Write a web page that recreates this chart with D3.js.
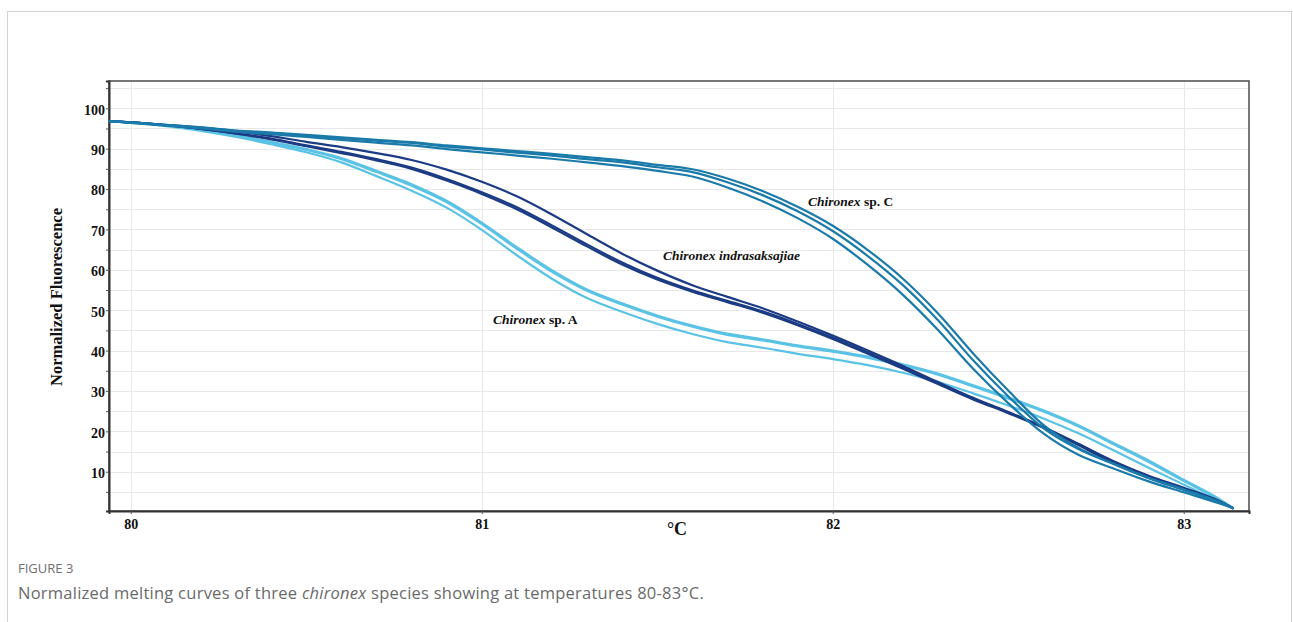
<!DOCTYPE html>
<html>
<head>
<meta charset="utf-8">
<script src="https://cdn.jsdelivr.net/npm/d3@7"></script>
<style>
  body { margin: 0; background: #fff; }
  svg { display: block; }
</style>
</head>
<body>
<script>
'use strict';

// temperature grid (°C) shared by every melt curve
const temps = [79.94, 80.0, 80.1, 80.2, 80.3, 80.4, 80.5, 80.6, 80.7, 80.8, 80.9,
  81.0, 81.1, 81.2, 81.3, 81.4, 81.5, 81.6, 81.7, 81.8, 81.9,
  82.0, 82.1, 82.2, 82.3, 82.4, 82.5, 82.6, 82.7, 82.8, 82.9,
  83.0, 83.1, 83.14];

// Chironex sp. A replicates
const spA1 = [96.8, 96.5, 95.8, 94.7, 93.3, 91.7, 89.9, 87.7, 84.5, 81.2, 77.1, 71.7, 65.6, 59.9, 55.1, 51.7, 48.7, 46.2, 44.2, 42.8, 41.3, 40.0, 38.5, 36.6, 34.3, 31.4, 28.4, 25.2, 21.5, 17.1, 12.8, 8.0, 3.3, 1.0];
const spA2 = [96.8, 96.5, 95.7, 94.6, 93.2, 91.5, 89.7, 87.4, 84.2, 80.8, 76.7, 71.3, 65.2, 59.5, 54.8, 51.4, 48.4, 45.9, 43.9, 42.5, 41.0, 39.7, 38.2, 36.3, 34.0, 31.1, 28.1, 24.9, 21.2, 16.8, 12.4, 7.7, 3.1, 1.0];
const spA3 = [96.8, 96.4, 95.6, 94.4, 92.9, 91.1, 89.1, 86.6, 83.2, 79.6, 75.4, 69.9, 63.6, 57.8, 53.0, 49.6, 46.6, 44.1, 42.1, 40.7, 39.2, 37.9, 36.4, 34.5, 32.2, 29.4, 26.4, 23.2, 19.5, 15.3, 11.0, 6.8, 2.7, 1.0];

// Chironex indrasaksajiae replicates
const ind1 = [96.8, 96.5, 95.9, 95.2, 94.3, 93.1, 91.7, 90.4, 88.9, 87.2, 84.8, 81.8, 78.2, 73.7, 68.8, 64.0, 59.8, 56.2, 53.3, 50.5, 47.2, 43.7, 40.0, 36.2, 32.2, 28.3, 24.8, 21.0, 16.6, 12.1, 8.5, 5.6, 2.6, 1.0];
const ind2 = [96.8, 96.5, 95.8, 94.9, 93.8, 92.5, 90.8, 89.2, 87.4, 85.3, 82.5, 79.2, 75.5, 71.0, 66.3, 61.8, 58.0, 54.9, 52.3, 49.7, 46.6, 43.2, 39.5, 35.8, 31.9, 28.1, 24.7, 21.1, 16.9, 12.5, 8.8, 5.8, 2.7, 1.0];
const ind3 = [96.8, 96.5, 95.8, 94.9, 93.7, 92.3, 90.6, 88.9, 87.1, 85.0, 82.1, 78.8, 75.0, 70.5, 65.8, 61.3, 57.6, 54.6, 52.0, 49.4, 46.3, 42.9, 39.2, 35.5, 31.7, 27.9, 24.5, 20.9, 16.8, 12.6, 9.0, 6.0, 2.8, 1.0];

// Chironex sp. C replicates
const spC1 = [96.8, 96.5, 95.9, 95.3, 94.5, 94.0, 93.4, 92.8, 92.2, 91.6, 90.8, 90.1, 89.4, 88.7, 87.9, 87.1, 86.0, 84.9, 82.6, 79.5, 75.6, 70.9, 64.9, 57.8, 49.2, 39.3, 30.1, 21.6, 15.9, 12.0, 8.5, 5.6, 2.6, 1.0];
const spC2 = [96.8, 96.5, 95.8, 95.2, 94.4, 93.9, 93.2, 92.6, 92.0, 91.4, 90.5, 89.8, 89.0, 88.3, 87.4, 86.6, 85.4, 84.2, 81.7, 78.5, 74.5, 69.6, 63.4, 56.2, 47.5, 37.6, 28.7, 20.8, 15.6, 11.9, 8.4, 5.5, 2.5, 1.0];
const spC3 = [96.8, 96.4, 95.7, 95.0, 94.2, 93.6, 92.9, 92.2, 91.5, 90.8, 89.9, 89.1, 88.3, 87.5, 86.6, 85.7, 84.5, 83.1, 80.4, 77.0, 72.8, 67.7, 61.2, 53.8, 45.1, 35.5, 27.0, 19.5, 14.2, 10.8, 7.6, 4.9, 2.2, 1.0];

const xTicks = [80, 81, 82, 83];
const yTicks = [10, 20, 30, 40, 50, 60, 70, 80, 90, 100];
const yMinorTicks = [5, 15, 25, 35, 45, 55, 65, 75, 85, 95, 105];

const series = [
  { name: "Chironex sp. A", color: "#5ac3e5", reps: [spA1, spA2, spA3] },
  { name: "Chironex indrasaksajiae", color: "#1b3b84", reps: [ind1, ind2, ind3] },
  { name: "Chironex sp. C", color: "#1a7aa9", reps: [spC1, spC2, spC3] }
];

(function () {
  let svg = "";
  const plot = { left: 109, right: 1249, top: 81, bottom: 511 };
  const serif = "'Liberation Serif', 'Times New Roman', serif";

  window.onload = function () {
    svg = d3.select('body')
      .append('svg')
      .attr('width', 1293)
      .attr('height', 622);

    // card outline
    svg.append('rect')
      .attr('x', 7.5)
      .attr('y', 11.5)
      .attr('width', 1284)
      .attr('height', 640)
      .attr('fill', 'none')
      .attr('stroke', '#d2d2d2');

    let funcs = drawAxes();
    plotLines(funcs);
    drawLabels();
    drawCaption();
  };

  function drawAxes() {
    let xScale = d3.scaleLinear()
      .domain([79.938, 83.186])
      .range([plot.left, plot.right]);
    let yScale = d3.scaleLinear()
      .domain([0.27, 106.76])
      .range([plot.bottom, plot.top]);

    // gridlines
    let grid = svg.append('g').attr('stroke', '#e8e8e8').attr('stroke-width', 1);
    grid.selectAll('.hg')
      .data(yTicks.concat(yMinorTicks))
      .enter()
      .append('line')
      .attr('x1', plot.left)
      .attr('x2', plot.right)
      .attr('y1', (d) => Math.round(yScale(d)) + 0.5)
      .attr('y2', (d) => Math.round(yScale(d)) + 0.5);
    grid.selectAll('.vg')
      .data(xTicks)
      .enter()
      .append('line')
      .attr('x1', (d) => Math.round(xScale(d)) + 0.5)
      .attr('x2', (d) => Math.round(xScale(d)) + 0.5)
      .attr('y1', plot.top)
      .attr('y2', plot.bottom);

    // frame
    svg.append('rect')
      .attr('x', plot.left)
      .attr('y', plot.top)
      .attr('width', plot.right - plot.left)
      .attr('height', plot.bottom - plot.top)
      .attr('fill', 'none')
      .attr('stroke', '#4a4a4a')
      .attr('stroke-width', 1.5);

    let yAxis = d3.axisLeft(yScale)
      .tickValues(yTicks)
      .tickSize(3)
      .tickPadding(1);
    let yG = svg.append('g')
      .attr('transform', 'translate(' + plot.left + ', 0)')
      .call(yAxis);
    svg.append('g')
      .attr('transform', 'translate(' + plot.left + ', 0)')
      .call(d3.axisLeft(yScale).tickValues(yMinorTicks).tickSize(3).tickFormat(''))
      .call((g) => g.select('.domain').remove())
      .selectAll('line').attr('stroke', '#555');

    let xAxis = d3.axisBottom(xScale)
      .tickValues(xTicks)
      .tickSize(3)
      .tickPadding(5)
      .tickFormat(d3.format("d"));
    let xG = svg.append('g')
      .attr('transform', 'translate(0, ' + plot.bottom + ')')
      .call(xAxis);

    [xG, yG].forEach((g) => {
      g.select('.domain').attr('stroke', '#333').attr('stroke-width', 2);
      g.selectAll('line').attr('stroke', '#555');
      g.selectAll('text')
        .attr('fill', '#111')
        .style('font-family', serif)
        .style('font-weight', 'bold')
        .style('font-size', '14px');
    });
    yG.selectAll('text').attr('dy', '0.42em');

    svg.append('text')
      .attr('transform', 'translate(62, 297)rotate(-90)')
      .attr('text-anchor', 'middle')
      .style('font-family', serif)
      .style('font-weight', 'bold')
      .style('font-size', '16.5px')
      .attr('fill', '#111')
      .text('Normalized Fluorescence');
    svg.append('text')
      .attr('x', 677)
      .attr('y', 535)
      .attr('text-anchor', 'middle')
      .style('font-family', serif)
      .style('font-weight', 'bold')
      .style('font-size', '18px')
      .attr('fill', '#111')
      .text('°C');

    return { x: xScale, y: yScale };
  }

  function plotLines(funcs) {
    let line = d3.line()
      .x((d) => funcs.x(d[0]))
      .y((d) => funcs.y(d[1]))
      .curve(d3.curveMonotoneX);

    series.forEach((s) => {
      s.reps.forEach((rep) => {
        svg.append('path')
          .datum(temps.map((t, i) => [t, rep[i]]))
          .attr('fill', 'none')
          .attr('stroke', s.color)
          .attr('stroke-width', 2.2)
          .attr('stroke-linejoin', 'round')
          .attr('stroke-linecap', 'round')
          .attr('d', line);
      });
    });
  }

  function drawLabels() {
    let labels = [
      { x: 808, y: 206, it: 'Chironex', rest: ' sp. C' },
      { x: 663, y: 260, it: 'Chironex indrasaksajiae', rest: '' },
      { x: 493, y: 324, it: 'Chironex', rest: ' sp. A' }
    ];
    labels.forEach((l) => {
      let t = svg.append('text')
        .attr('x', l.x)
        .attr('y', l.y)
        .style('font-family', serif)
        .style('font-weight', 'bold')
        .style('font-size', '13.5px')
        .attr('fill', '#111');
      t.append('tspan').style('font-style', 'italic').text(l.it);
      if (l.rest) t.append('tspan').text(l.rest);
    });
  }

  function drawCaption() {
    svg.append('text')
      .attr('x', 18)
      .attr('y', 573)
      .style('font-family', "'Open Sans', sans-serif")
      .style('font-size', '13px')
      .attr('fill', '#6f6f6f')
      .text('FIGURE 3');
    let cap = svg.append('text')
      .attr('x', 18)
      .attr('y', 599)
      .style('font-family', "'Open Sans', sans-serif")
      .style('font-size', '16.5px')
      .style('letter-spacing', '0.25px')
      .attr('fill', '#6a6a6a');
    cap.append('tspan').text('Normalized melting curves of three ');
    cap.append('tspan').style('font-style', 'italic').text('chironex');
    cap.append('tspan').text(' species showing at temperatures 80-83°C.');
  }
})();
</script>
</body>
</html>
